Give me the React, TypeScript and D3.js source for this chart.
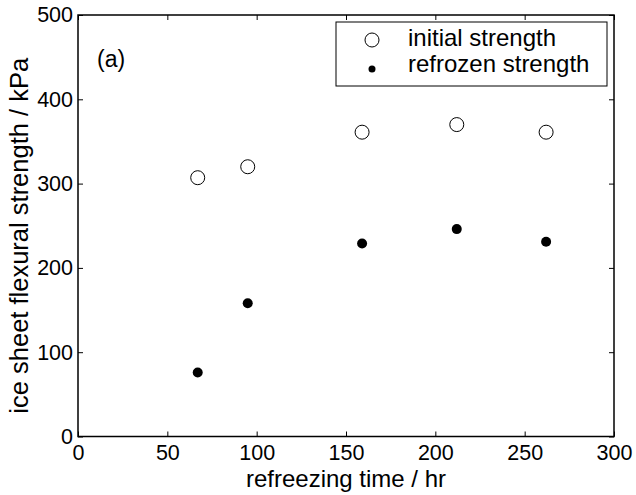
import React, { useEffect, useRef } from 'react';
import * as d3 from 'd3';

const hours = [67, 95, 159, 212, 262];
const initialStrength = [307, 320, 361, 370, 361];
const refrozenStrength = [76, 158, 229, 246, 231];
const xTicks = [0, 50, 100, 150, 200, 250, 300];
const yTicks = [0, 100, 200, 300, 400, 500];
const legendLabels = ['initial strength', 'refrozen strength'];

const App = () => {
  const ref = useRef<SVGSVGElement>(null);

  useEffect(() => {
    const svg = d3.select(ref.current);
    svg.selectAll('*').remove();

    const margin = { top: 15, right: 22, bottom: 58.5, left: 78 };
    const width = 636 - margin.left - margin.right;
    const height = 495 - margin.top - margin.bottom;
    const font = 'Liberation Sans, Arial, sans-serif';

    const g = svg.append('g').attr('transform', `translate(${margin.left},${margin.top})`);

    const x = d3.scaleLinear().domain([0, 300]).range([0, width]);
    const y = d3.scaleLinear().domain([0, 500]).range([height, 0]);

    // axes with inward ticks on all four sides
    const styleAxis = (sel, hideText) => {
      sel.select('.domain').remove();
      sel.selectAll('line').attr('stroke', '#000').attr('stroke-width', 1);
      sel.selectAll('text').style('font-family', font).style('font-size', '21.5px').attr('fill', '#000');
      if (hideText) sel.selectAll('text').remove();
    };

    g.append('g')
      .attr('transform', `translate(0,${height})`)
      .call(d3.axisBottom(x).tickValues(xTicks).tickSize(-5).tickPadding(8))
      .call((s) => styleAxis(s, false));
    g.append('g')
      .call(d3.axisTop(x).tickValues(xTicks).tickSize(-5))
      .call((s) => styleAxis(s, true));
    g.append('g')
      .call(d3.axisLeft(y).tickValues(yTicks).tickSize(-5).tickPadding(5))
      .call((s) => styleAxis(s, false));
    g.append('g')
      .attr('transform', `translate(${width},0)`)
      .call(d3.axisRight(y).tickValues(yTicks).tickSize(-5))
      .call((s) => styleAxis(s, true));

    // frame
    g.append('rect')
      .attr('width', width)
      .attr('height', height)
      .attr('fill', 'none')
      .attr('stroke', '#000')
      .attr('stroke-width', 1.5);

    // points
    g.selectAll('.init')
      .data(hours)
      .join('circle')
      .attr('cx', (d) => x(d))
      .attr('cy', (d, i) => y(initialStrength[i]))
      .attr('r', 7)
      .attr('fill', 'none')
      .attr('stroke', '#000')
      .attr('stroke-width', 1);

    g.selectAll('.refr')
      .data(hours)
      .join('circle')
      .attr('cx', (d) => x(d))
      .attr('cy', (d, i) => y(refrozenStrength[i]))
      .attr('r', 5)
      .attr('fill', '#000');

    // panel tag
    g.append('text')
      .attr('x', 19)
      .attr('y', 52)
      .style('font-family', font)
      .style('font-size', '23px')
      .text('(a)');

    // legend
    const legend = g.append('g').attr('transform', 'translate(258,7)');
    legend
      .append('rect')
      .attr('width', 271)
      .attr('height', 64)
      .attr('fill', '#fff')
      .attr('stroke', '#000')
      .attr('stroke-width', 1);
    legendLabels.forEach((label, i) => {
      const cy = 18 + i * 29;
      if (i === 0) {
        legend.append('circle').attr('cx', 36).attr('cy', cy).attr('r', 7)
          .attr('fill', 'none').attr('stroke', '#000');
      } else {
        legend.append('circle').attr('cx', 36).attr('cy', cy).attr('r', 3.5).attr('fill', '#000');
      }
      legend
        .append('text')
        .attr('x', 72)
        .attr('y', 24 + i * 26)
        .style('font-family', font)
        .style('font-size', '24px')
        .text(label);
    });

    // axis labels
    g.append('text')
      .attr('x', width / 2)
      .attr('y', height + 50.5)
      .attr('text-anchor', 'middle')
      .style('font-family', font)
      .style('font-size', '24px')
      .text('refreezing time / hr');

    g.append('text')
      .attr('transform', 'rotate(-90)')
      .attr('x', -(height / 2 + 10))
      .attr('y', -50)
      .attr('text-anchor', 'middle')
      .style('font-family', font)
      .style('font-size', '25.5px')
      .text('ice sheet flexural strength / kPa');
  }, []);

  return (
    <svg
      ref={ref}
      width={636}
      height={495}
      style={{ position: 'absolute', left: 0, top: 0, background: '#fff' }}
    />
  );
};

export default App;
